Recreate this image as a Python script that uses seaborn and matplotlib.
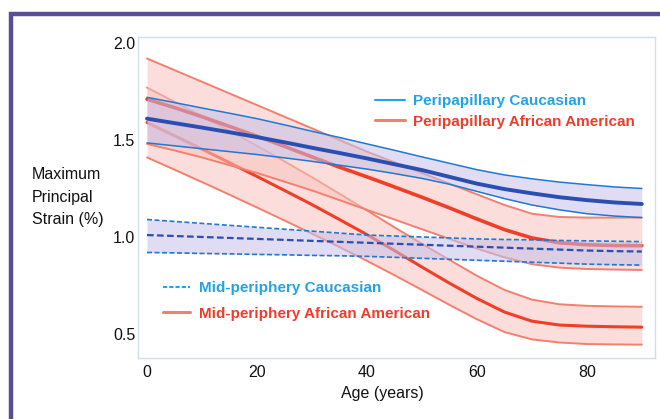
import numpy as np
import pandas as pd
import matplotlib
matplotlib.use("Agg")
import matplotlib.pyplot as plt
from matplotlib.lines import Line2D
from matplotlib.patches import Rectangle
import seaborn as sns

# ---- data ----
ages = [0, 5, 10, 15, 20, 25, 30, 35, 40, 45, 50, 55, 60, 65, 70, 75, 80, 85, 90]

peri_cau_mean  = [1.61, 1.587, 1.564, 1.54, 1.515, 1.488, 1.46, 1.433, 1.405, 1.375, 1.345,
                  1.31, 1.275, 1.247, 1.225, 1.205, 1.19, 1.178, 1.17]
peri_cau_upper = [1.72, 1.693, 1.665, 1.638, 1.61, 1.578, 1.545, 1.513, 1.48, 1.447, 1.413,
                  1.38, 1.347, 1.32, 1.30, 1.283, 1.27, 1.258, 1.25]
peri_cau_lower = [1.485, 1.47, 1.455, 1.44, 1.425, 1.408, 1.39, 1.37, 1.35, 1.327, 1.302,
                  1.272, 1.235, 1.198, 1.165, 1.14, 1.12, 1.108, 1.10]

peri_aa_mean  = [1.71, 1.667, 1.62, 1.57, 1.52, 1.467, 1.413, 1.36, 1.31, 1.258, 1.205,
                 1.15, 1.093, 1.038, 0.995, 0.97, 0.96, 0.956, 0.955]
peri_aa_upper = [1.92, 1.86, 1.80, 1.74, 1.68, 1.62, 1.56, 1.50, 1.44, 1.385, 1.33,
                 1.275, 1.22, 1.165, 1.12, 1.103, 1.10, 1.10, 1.10]
peri_aa_lower = [1.48, 1.446, 1.41, 1.37, 1.33, 1.285, 1.24, 1.19, 1.14, 1.09, 1.04,
                 0.99, 0.94, 0.895, 0.86, 0.842, 0.835, 0.832, 0.83]

mid_cau_mean  = [1.01, 1.005, 1.0, 0.995, 0.99, 0.985, 0.98, 0.975, 0.97, 0.965, 0.96,
                 0.955, 0.95, 0.945, 0.94, 0.935, 0.93, 0.927, 0.925]
mid_cau_upper = [1.09, 1.08, 1.07, 1.06, 1.05, 1.04, 1.03, 1.02, 1.01, 1.005, 1.0,
                 0.995, 0.99, 0.987, 0.985, 0.982, 0.98, 0.978, 0.976]
mid_cau_lower = [0.92, 0.918, 0.915, 0.913, 0.91, 0.908, 0.905, 0.903, 0.90, 0.895, 0.89,
                 0.885, 0.88, 0.875, 0.87, 0.865, 0.86, 0.857, 0.855]

mid_aa_mean  = [1.59, 1.522, 1.453, 1.383, 1.312, 1.24, 1.167, 1.09, 1.012, 0.93, 0.845,
                0.762, 0.683, 0.613, 0.566, 0.546, 0.54, 0.537, 0.535]
mid_aa_upper = [1.77, 1.697, 1.623, 1.548, 1.47, 1.39, 1.308, 1.223, 1.137, 1.05, 0.965,
                0.882, 0.80, 0.727, 0.677, 0.653, 0.645, 0.642, 0.64]
mid_aa_lower = [1.41, 1.347, 1.283, 1.218, 1.152, 1.085, 1.017, 0.948, 0.877, 0.803, 0.727,
                0.65, 0.576, 0.51, 0.472, 0.456, 0.448, 0.446, 0.445]

y_ticks = [0.5, 1.0, 1.5, 2.0]
x_ticks = [0, 20, 40, 60, 80]
legend_top = ["Peripapillary Caucasian", "Peripapillary African American"]
legend_bottom = ["Mid-periphery Caucasian", "Mid-periphery African American"]

# ---- style ----
sns.set_style("white")
plt.rcParams["font.family"] = ["Liberation Sans", "DejaVu Sans"]

fig = plt.figure(figsize=(6.6, 4.19), dpi=100)
ax = fig.add_axes([138/660, 1-358/419, (655-138)/660, (358-37)/419])

BLUE_DARK = "#2a4fb0"
BLUE_EDGE = "#1f78d2"
BLUE_FILL = "#c6c0ea"
RED_MAIN = "#ef3f27"
RED_EDGE = "#f3806e"
RED_FILL = "#f9c3be"
LEG_BLUE = "#23a3e6"
LEG_RED = "#ec3e2a"

def band(mean, upper, lower, fill, alpha, edge_color, mean_color, mean_lw, edge_lw, ls, z):
    df = pd.DataFrame({"age": ages, "mean": mean, "upper": upper, "lower": lower})
    ax.fill_between(df["age"], df["lower"], df["upper"], color=fill, alpha=alpha,
                    lw=0, zorder=z)
    sns.lineplot(data=df, x="age", y="upper", ax=ax, color=edge_color, lw=edge_lw,
                 linestyle=ls, zorder=z + 0.1, legend=False)
    sns.lineplot(data=df, x="age", y="lower", ax=ax, color=edge_color, lw=edge_lw,
                 linestyle=ls, zorder=z + 0.1, legend=False)
    sns.lineplot(data=df, x="age", y="mean", ax=ax, color=mean_color, lw=mean_lw,
                 linestyle=ls, zorder=z + 0.2, legend=False)

band(mid_aa_mean, mid_aa_upper, mid_aa_lower, RED_FILL, 0.55, RED_EDGE, RED_MAIN, 2.2, 1.4, "-", 1)
band(peri_aa_mean, peri_aa_upper, peri_aa_lower, RED_FILL, 0.55, RED_EDGE, RED_MAIN, 2.6, 1.4, "-", 2)
band(mid_cau_mean, mid_cau_upper, mid_cau_lower, BLUE_FILL, 0.55, BLUE_EDGE, BLUE_DARK, 1.6, 1.2, (0, (3, 1.5)), 3)
band(peri_cau_mean, peri_cau_upper, peri_cau_lower, BLUE_FILL, 0.55, BLUE_EDGE, BLUE_DARK, 2.8, 1.1, "-", 4)

ax.set_xlim(-1.64, 92.4)
ax.set_ylim(0.376, 2.031)
ax.set_xticks(x_ticks)
ax.set_xticklabels([str(v) for v in x_ticks])
ax.set_yticks(y_ticks)
ax.set_yticklabels([f"{v:.1f}" for v in y_ticks])
ax.tick_params(axis="both", length=0, labelsize=11.5, colors="#111111")
ax.tick_params(axis="y", pad=2)
ax.tick_params(axis="x", pad=5)
ax.set_xlabel("")
ax.set_ylabel("")
for s in ax.spines.values():
    s.set_color("#cfe0ea")
    s.set_linewidth(1.0)

# legends
h_top = [Line2D([], [], color=LEG_BLUE, lw=1.5),
         Line2D([], [], color=RED_EDGE, lw=2.2)]
leg1 = ax.legend(h_top, legend_top, loc="upper left",
                 bbox_to_anchor=(375/660, 1-94/419), bbox_transform=fig.transFigure,
                 frameon=False, borderpad=0, borderaxespad=0, handlelength=1.96,
                 handletextpad=0.5, labelspacing=0.44,
                 prop={"weight": "bold", "size": 11})
for t, c in zip(leg1.get_texts(), [LEG_BLUE, LEG_RED]):
    t.set_color(c)
ax.add_artist(leg1)

h_bot = [Line2D([], [], color=LEG_BLUE, lw=1.5, linestyle=(0, (2, 1))),
         Line2D([], [], color=RED_EDGE, lw=2.2)]
leg2 = ax.legend(h_bot, legend_bottom, loc="upper left",
                 bbox_to_anchor=(163/660, 1-281/419), bbox_transform=fig.transFigure,
                 frameon=False, borderpad=0, borderaxespad=0, handlelength=1.76,
                 handletextpad=0.6, labelspacing=0.77,
                 prop={"weight": "bold", "size": 11})
for t, c in zip(leg2.get_texts(), [LEG_BLUE, LEG_RED]):
    t.set_color(c)

# axis labels
fig.text(32/660, 1-197/419, "Maximum\nPrincipal\nStrain (%)", ha="left", va="center",
         fontsize=11.5, color="#111111", linespacing=1.6)
fig.text(382/660, 1-393/419, "Age (years)", ha="center", va="center",
         fontsize=11.5, color="#111111")

# purple frame
fig.patches.append(Rectangle((11/660, -0.2), 1.3, 1.2 - 14/419,
                             transform=fig.transFigure, fill=False,
                             edgecolor="#574d99", lw=3.2, zorder=10))

fig.savefig("out.png", dpi=100)
